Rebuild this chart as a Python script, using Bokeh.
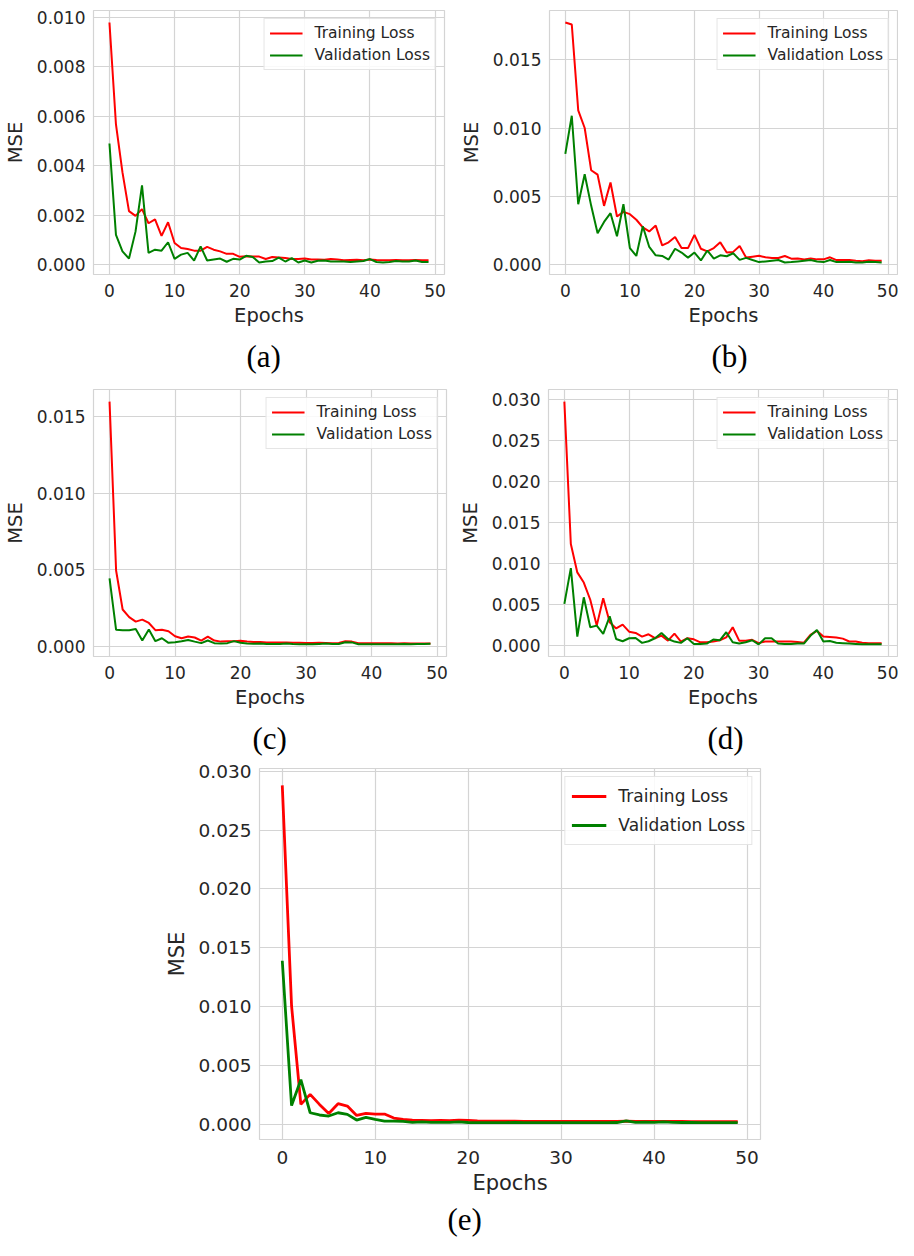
from bokeh.plotting import figure
from bokeh.models import Range1d, FixedTicker, NumeralTickFormatter, Title, Spacer
from bokeh.layouts import column, row
from bokeh.embed import file_html
from bokeh.resources import INLINE

# ---------------- data (MSE values, x 1e-3) ----------------
epochs = list(range(50))

train_a = [9.8, 5.67, 3.73, 2.16, 1.97, 2.24, 1.67, 1.83, 1.16, 1.71,
           0.87, 0.67, 0.63, 0.56, 0.56, 0.71, 0.60, 0.53, 0.43, 0.43,
           0.31, 0.33, 0.32, 0.32, 0.22, 0.30, 0.28, 0.26, 0.22, 0.22,
           0.24, 0.20, 0.20, 0.19, 0.22, 0.20, 0.17, 0.18, 0.19, 0.17,
           0.20, 0.18, 0.17, 0.17, 0.18, 0.17, 0.17, 0.18, 0.17, 0.17]
val_a = [4.9, 1.2, 0.53, 0.24, 1.33, 3.2, 0.47, 0.6, 0.56, 0.9,
         0.23, 0.4, 0.47, 0.16, 0.73, 0.16, 0.2, 0.24, 0.11, 0.23,
         0.2, 0.35, 0.3, 0.08, 0.12, 0.14, 0.28, 0.12, 0.26, 0.08,
         0.16, 0.08, 0.15, 0.16, 0.12, 0.12, 0.12, 0.1, 0.12, 0.14,
         0.22, 0.1, 0.08, 0.1, 0.14, 0.12, 0.12, 0.16, 0.1, 0.1]

train_b = [17.75, 17.6, 11.3, 10.0, 6.9, 6.57, 4.28, 6.0, 3.5, 3.84,
           3.67, 3.26, 2.7, 2.4, 2.83, 1.38, 1.6, 2.0, 1.18, 1.18,
           2.15, 1.13, 0.94, 1.18, 1.6, 0.85, 0.9, 1.33, 0.48, 0.55,
           0.62, 0.5, 0.45, 0.45, 0.6, 0.4, 0.42, 0.35, 0.42, 0.35,
           0.35, 0.5, 0.3, 0.3, 0.3, 0.25, 0.22, 0.28, 0.25, 0.25]
val_b = [8.1, 10.9, 4.4, 6.6, 4.3, 2.27, 3.1, 3.74, 2.05, 4.4,
         1.18, 0.6, 2.78, 1.26, 0.65, 0.6, 0.34, 1.13, 0.85, 0.48,
         0.85, 0.27, 1.0, 0.41, 0.65, 0.58, 0.8, 0.31, 0.46, 0.3,
         0.15, 0.2, 0.25, 0.3, 0.12, 0.15, 0.2, 0.25, 0.3, 0.2,
         0.15, 0.3, 0.15, 0.15, 0.18, 0.12, 0.12, 0.18, 0.15, 0.12]

train_c = [16.0, 4.95, 2.4, 1.9, 1.61, 1.74, 1.52, 1.05, 1.07, 0.98,
           0.65, 0.52, 0.63, 0.57, 0.37, 0.63, 0.37, 0.3, 0.33, 0.33,
           0.35, 0.3, 0.28, 0.27, 0.25, 0.25, 0.24, 0.25, 0.22, 0.22,
           0.21, 0.21, 0.22, 0.21, 0.2, 0.21, 0.32, 0.3, 0.2, 0.2,
           0.2, 0.19, 0.19, 0.19, 0.18, 0.19, 0.18, 0.18, 0.18, 0.18]
val_c = [4.44, 1.07, 1.05, 1.05, 1.13, 0.37, 1.09, 0.33, 0.52, 0.22,
         0.26, 0.33, 0.41, 0.3, 0.2, 0.37, 0.2, 0.17, 0.2, 0.33,
         0.22, 0.18, 0.16, 0.18, 0.14, 0.14, 0.15, 0.17, 0.14, 0.13,
         0.13, 0.13, 0.15, 0.17, 0.15, 0.14, 0.26, 0.25, 0.13, 0.13,
         0.13, 0.13, 0.13, 0.12, 0.12, 0.14, 0.12, 0.14, 0.14, 0.16]

train_d = [29.8, 12.4, 8.94, 7.7, 5.6, 2.44, 5.77, 2.85, 2.1, 2.56,
           1.7, 1.54, 1.1, 1.38, 0.9, 1.22, 0.6, 1.46, 0.49, 0.9,
           0.77, 0.4, 0.4, 0.5, 0.65, 1.0, 2.24, 0.6, 0.6, 0.7,
           0.3, 0.5, 0.5, 0.5, 0.5, 0.5, 0.45, 0.35, 1.3, 1.8,
           1.1, 1.05, 1.0, 0.85, 0.5, 0.5, 0.35, 0.3, 0.3, 0.3]
val_d = [5.1, 9.47, 1.1, 5.9, 2.24, 2.44, 1.42, 3.58, 0.81, 0.53,
         0.9, 0.93, 0.33, 0.53, 0.9, 1.54, 0.81, 0.49, 0.33, 0.9,
         0.2, 0.2, 0.25, 0.73, 0.65, 1.63, 0.4, 0.25, 0.4, 0.65,
         0.15, 0.9, 0.9, 0.25, 0.2, 0.2, 0.25, 0.25, 1.2, 1.9,
         0.5, 0.55, 0.35, 0.3, 0.25, 0.2, 0.15, 0.15, 0.15, 0.15]

train_e = [28.8, 10.06, 1.7, 2.55, 1.7, 0.93, 1.76, 1.56, 0.76, 0.93,
           0.88, 0.88, 0.54, 0.42, 0.37, 0.34, 0.31, 0.34, 0.31, 0.36,
           0.34, 0.3, 0.28, 0.27, 0.27, 0.27, 0.26, 0.26, 0.26, 0.26,
           0.25, 0.25, 0.25, 0.25, 0.25, 0.25, 0.25, 0.28, 0.25, 0.25,
           0.25, 0.26, 0.25, 0.25, 0.24, 0.24, 0.24, 0.24, 0.24, 0.24]
val_e = [13.9, 1.6, 3.8, 0.99, 0.8, 0.71, 0.99, 0.85, 0.37, 0.6,
         0.42, 0.28, 0.28, 0.25, 0.18, 0.22, 0.18, 0.17, 0.18, 0.22,
         0.16, 0.15, 0.15, 0.15, 0.15, 0.17, 0.15, 0.15, 0.15, 0.15,
         0.15, 0.15, 0.15, 0.15, 0.15, 0.15, 0.16, 0.3, 0.17, 0.2,
         0.17, 0.22, 0.17, 0.16, 0.16, 0.15, 0.15, 0.15, 0.15, 0.15]

x_ticks = [0, 10, 20, 30, 40, 50]
y_ticks_a = [0.0, 0.002, 0.004, 0.006, 0.008, 0.010]
y_ticks_bc = [0.0, 0.005, 0.010, 0.015]
y_ticks_de = [0.0, 0.005, 0.010, 0.015, 0.020, 0.025, 0.030]
captions = ["(a)", "(b)", "(c)", "(d)", "(e)"]
series_names = ["Training Loss", "Validation Loss"]

SCALE = 1e-3
GRID = "#d4d4d4"
TXT = "#262626"


def make_panel(train, val, yticks, caption, width, height, bl, br, bt, bb,
               cap_offset, cap_standoff, big=False):
    tr = [v * SCALE for v in train]
    va = [v * SCALE for v in val]
    lo = min(tr + va)
    hi = max(tr + va)
    m = 0.05 * (hi - lo)
    xm = 0.05 * (epochs[-1] - epochs[0])
    p = figure(width=width, height=height, output_backend="svg",
               toolbar_location=None,
               x_range=Range1d(epochs[0] - xm, epochs[-1] + xm),
               y_range=Range1d(lo - m, hi + m),
               min_border_left=bl, min_border_right=br,
               min_border_top=bt, min_border_bottom=bb)
    lw = 2.8 if big else 2.0
    p.line(epochs, tr, color="#ff0000", line_width=lw, legend_label=series_names[0])
    p.line(epochs, va, color="#008000", line_width=lw, legend_label=series_names[1])

    tick_fs = "18.5px" if big else "17px"
    lab_fs = "21px" if big else "19.5px"
    p.xaxis.ticker = FixedTicker(ticks=x_ticks)
    p.yaxis.ticker = FixedTicker(ticks=yticks)
    p.yaxis.formatter = NumeralTickFormatter(format="0.000")
    p.xaxis.axis_label = "Epochs"
    p.yaxis.axis_label = "MSE"
    for ax in (p.xaxis, p.yaxis):
        ax.axis_line_color = None
        ax.major_tick_line_color = None
        ax.minor_tick_line_color = None
        ax.major_tick_out = 0
        ax.major_tick_in = 0
        ax.major_label_text_font = "DejaVu Sans"
        ax.major_label_text_font_size = tick_fs
        ax.major_label_text_color = TXT
        ax.axis_label_text_font = "DejaVu Sans"
        ax.axis_label_text_font_size = lab_fs
        ax.axis_label_text_font_style = "normal"
        ax.axis_label_text_color = TXT
    p.yaxis.major_label_standoff = 8
    p.xaxis.major_label_standoff = 11 if big else 9
    p.yaxis.axis_label_standoff = 7
    p.xaxis.axis_label_standoff = 4

    p.xgrid.grid_line_color = GRID
    p.ygrid.grid_line_color = GRID
    p.xgrid.grid_line_width = 1.2
    p.ygrid.grid_line_width = 1.2
    p.outline_line_color = GRID
    p.outline_line_width = 1.2
    p.background_fill_color = "white"
    p.border_fill_color = "white"

    lg = p.legend[0]
    lg.location = "top_right"
    lg.margin = 8
    lg.border_line_color = "#cccccc"
    lg.border_line_width = 1
    lg.background_fill_alpha = 0.85
    lg.label_text_font = "DejaVu Sans"
    lg.label_text_color = TXT
    if big:
        lg.label_text_font_size = "17px"
        lg.glyph_width = 35
        lg.glyph_height = 26
        lg.label_height = 26
        lg.padding = 6
        lg.spacing = 3
        lg.label_standoff = 12
    else:
        lg.label_text_font_size = "15.5px"
        lg.glyph_width = 33
        lg.glyph_height = 18
        lg.label_height = 18
        lg.padding = 5
        lg.spacing = 4
        lg.label_standoff = 12

    p.add_layout(Title(text=caption, align="left", offset=cap_offset,
                       standoff=cap_standoff,
                       text_font="Liberation Serif", text_font_size="31px",
                       text_font_style="normal", text_color="black"), "below")
    return p


pa = make_panel(train_a, val_a, y_ticks_a, captions[0], 450, 382, 85, 6, 7, 108, 153, 14)
pb = make_panel(train_b, val_b, y_ticks_bc, captions[1], 448, 382, 99, 1, 10, 105, 162, 14)
pc = make_panel(train_c, val_c, y_ticks_bc, captions[2], 450, 380, 88, 4, 6, 106, 159, 14)
pd = make_panel(train_d, val_d, y_ticks_de, captions[3], 448, 380, 98, 1, 7, 106, 159, 14)
pe = make_panel(train_e, val_e, y_ticks_de, captions[4], 608, 478, 100, 7, 6, 101, 188, 5, big=True)

layout = column(row(pa, pb), row(pc, pd), row(Spacer(width=159, height=478), pe))

with open("out.html", "w") as f:
    f.write(file_html(layout, INLINE))
